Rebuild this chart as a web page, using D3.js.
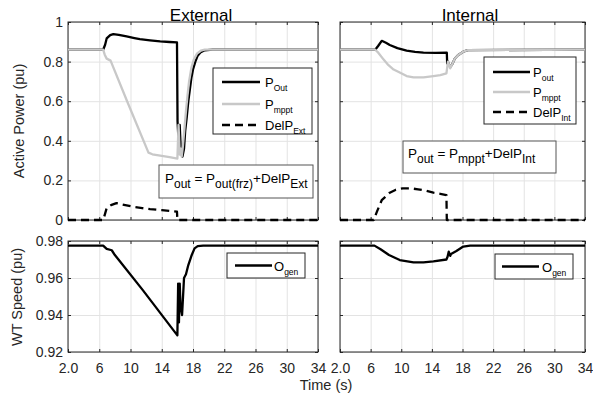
<!DOCTYPE html>
<html><head><meta charset="utf-8">
<script src="https://cdn.jsdelivr.net/npm/d3@7"></script>
<style>html,body{margin:0;padding:0;background:#fff;} svg{display:block;font-family:"Liberation Sans",Arial,sans-serif;}</style>
</head><body><svg id="c" width="593" height="399"></svg>
<script>
// ---------- DATA ----------
const timeTicks = [2, 6, 10, 14, 18, 22, 26, 30, 34];
const timeTickLabels = ["2.0", "6", "10", "14", "18", "22", "26", "30", "34"];
const powerTicks = [0, 0.2, 0.4, 0.6, 0.8, 1];
const powerTickLabels = ["0", "0.2", "0.4", "0.6", "0.8", "1"];
const speedTicks = [0.92, 0.94, 0.96, 0.98];
const speedTickLabels = ["0.92", "0.94", "0.96", "0.98"];
const panelTitles = ["External", "Internal"];

// External: P_out
const extPoutTime = [2, 6.5, 6.75, 6.95, 7.4, 7.8, 8.5, 9.5, 10.5, 11.2, 12.5, 13.8, 15.0, 15.95, 16.02, 16.15, 16.3, 16.45, 16.65, 16.85, 17.0, 17.2, 17.4, 17.6, 17.8, 18.0, 18.3, 18.6, 19.0, 19.5, 20.5, 34];
const extPoutVal  = [0.86, 0.86, 0.885, 0.917, 0.934, 0.939, 0.935, 0.927, 0.919, 0.913, 0.907, 0.902, 0.899, 0.897, 0.50, 0.40, 0.48, 0.34, 0.32, 0.36, 0.45, 0.52, 0.60, 0.66, 0.72, 0.76, 0.80, 0.83, 0.848, 0.857, 0.86, 0.86];
// External: P_mppt
const extPmpptTime = [2, 6.5, 6.7, 6.95, 7.45, 9.5, 12.3, 12.8, 14.0, 15.0, 16.0, 16.15, 16.3, 16.45, 16.55, 16.7, 16.9, 17.1, 17.3, 17.5, 17.8, 18.1, 18.5, 19.0, 19.5, 34];
const extPmpptVal  = [0.86, 0.86, 0.835, 0.815, 0.805, 0.606, 0.34, 0.332, 0.324, 0.317, 0.31, 0.48, 0.33, 0.36, 0.32, 0.37, 0.46, 0.55, 0.63, 0.70, 0.77, 0.81, 0.84, 0.855, 0.86, 0.86];
// External: DelP_Ext
const extDelTime = [2, 6.5, 6.6, 6.95, 7.5, 8.2, 9.0, 10.3, 11.5, 12.5, 14.0, 15.0, 15.95, 16.0, 34];
const extDelVal  = [0, 0, 0.012, 0.06, 0.075, 0.085, 0.078, 0.067, 0.06, 0.055, 0.05, 0.046, 0.042, 0, 0];
// External: generator speed
const extSpeedTime = [2, 6.5, 6.95, 7.6, 8.0, 11.6, 16.0, 16.1, 16.2, 16.3, 16.4, 16.6, 16.85, 17.1, 17.4, 17.8, 18.2, 18.6, 19.3, 34];
const extSpeedVal  = [0.9775, 0.9775, 0.9757, 0.975, 0.9724, 0.9533, 0.929, 0.957, 0.936, 0.957, 0.945, 0.94, 0.96, 0.962, 0.967, 0.972, 0.976, 0.9772, 0.9775, 0.9775];

// Internal: P_out
const intPoutTime = [2, 6.6, 7.0, 7.45, 8.0, 8.5, 9.5, 10.7, 11.8, 12.9, 14.5, 15.95, 16.0, 16.1, 16.25, 16.4, 16.7, 17.0, 17.4, 17.7, 18.2, 18.7, 34];
const intPoutVal  = [0.86, 0.86, 0.88, 0.905, 0.895, 0.884, 0.868, 0.855, 0.849, 0.845, 0.844, 0.845, 0.79, 0.80, 0.78, 0.772, 0.79, 0.816, 0.832, 0.84, 0.852, 0.858, 0.86];
// Internal: P_mppt
const intPmpptTime = [2, 6.6, 7.0, 7.7, 8.3, 9.0, 9.8, 10.7, 11.6, 12.9, 14.2, 15.1, 15.9, 16.1, 16.4, 16.7, 17.0, 17.4, 17.7, 18.2, 18.7, 34];
const intPmpptVal  = [0.86, 0.86, 0.845, 0.81, 0.783, 0.76, 0.745, 0.727, 0.72, 0.72, 0.727, 0.732, 0.741, 0.80, 0.766, 0.79, 0.816, 0.832, 0.84, 0.852, 0.858, 0.86];
// Internal: DelP_Int
const intDelTime = [2, 6.4, 6.8, 7.45, 8.5, 9.3, 10.2, 11.2, 12.2, 13.2, 14.2, 15.1, 15.9, 15.95, 34];
const intDelVal  = [0, 0, 0.04, 0.10, 0.138, 0.153, 0.16, 0.16, 0.155, 0.148, 0.138, 0.132, 0.126, 0, 0];
// Internal: generator speed
const intSpeedTime = [2, 6.5, 7.3, 8.4, 9.8, 11.6, 12.9, 14.2, 15.9, 16.05, 16.2, 16.4, 16.5, 17.2, 18.1, 19.0, 34];
const intSpeedVal  = [0.9775, 0.9775, 0.9755, 0.9724, 0.9697, 0.9685, 0.9685, 0.969, 0.970, 0.9715, 0.9742, 0.972, 0.973, 0.9746, 0.977, 0.9775, 0.9775];

// ---------- DRAW ----------
const svg = d3.select("#c");
svg.append("rect").attr("width", 593).attr("height", 399).attr("fill", "#fff");

const AX = "#262626", GRID = "#e3e3e3", GREY = "#c8c8c8";
const cols = [{x0: 68, x1: 318}, {x0: 340, x1: 585}];
const rows = [{y0: 22, y1: 220}, {y0: 241, y1: 352}];

function zip(t, v) { return t.map((d, i) => [d, v[i]]); }

function panel(ci, ri, yDomain, yTicks, yLabels, series) {
  const c = cols[ci], r = rows[ri];
  const x = d3.scaleLinear().domain([2, 34]).range([c.x0, c.x1]);
  const y = d3.scaleLinear().domain(yDomain).range([r.y1, r.y0]);
  const g = svg.append("g");
  // grid
  g.append("g").attr("transform", `translate(0,${r.y1})`)
    .call(d3.axisBottom(x).tickValues(timeTicks).tickSize(-(r.y1 - r.y0)).tickFormat(""))
    .call(s => { s.select(".domain").remove(); s.selectAll("line").attr("stroke", GRID).attr("stroke-width", 1); });
  g.append("g").attr("transform", `translate(${c.x0},0)`)
    .call(d3.axisLeft(y).tickValues(yTicks).tickSize(-(c.x1 - c.x0)).tickFormat(""))
    .call(s => { s.select(".domain").remove(); s.selectAll("line").attr("stroke", GRID).attr("stroke-width", 1); });
  // inner tick marks
  [[d3.axisBottom(x), r.y1, -3], [d3.axisTop(x), r.y0, -3]].forEach(([ax, yy, ts]) => {
    g.append("g").attr("transform", `translate(0,${yy})`)
      .call(ax.tickValues(timeTicks).tickSize(ts).tickFormat(""))
      .call(s => { s.select(".domain").remove(); s.selectAll("line").attr("stroke", AX); });
  });
  [[d3.axisLeft(y), c.x0], [d3.axisRight(y), c.x1]].forEach(([ax, xx]) => {
    g.append("g").attr("transform", `translate(${xx},0)`)
      .call(ax.tickValues(yTicks).tickSize(-3).tickFormat(""))
      .call(s => { s.select(".domain").remove(); s.selectAll("line").attr("stroke", AX); });
  });
  // box
  g.append("rect").attr("x", c.x0).attr("y", r.y0).attr("width", c.x1 - c.x0).attr("height", r.y1 - r.y0)
    .attr("fill", "none").attr("stroke", AX).attr("stroke-width", 1);
  // y tick labels (left column only)
  if (ci === 0) {
    g.append("g").attr("transform", `translate(${c.x0},0)`)
      .call(d3.axisLeft(y).tickValues(yTicks).tickSize(0).tickPadding(5).tickFormat((d, i) => yLabels[i]))
      .call(s => { s.select(".domain").remove(); s.selectAll("text").attr("font-size", 14).attr("fill", AX).attr("font-family", "Liberation Sans, Arial, sans-serif"); });
  }
  // x tick labels (bottom row only)
  if (ri === 1) {
    g.append("g").attr("transform", `translate(0,${r.y1})`)
      .call(d3.axisBottom(x).tickValues(timeTicks).tickSize(0).tickPadding(11).tickFormat((d, i) => timeTickLabels[i]))
      .call(s => { s.select(".domain").remove(); s.selectAll("text").attr("font-size", 14).attr("fill", AX).attr("font-family", "Liberation Sans, Arial, sans-serif"); });
  }
  // series
  const line = d3.line().x(d => x(d[0])).y(d => y(d[1]));
  series.forEach(s => {
    g.append("path").attr("d", line(zip(s.t, s.v))).attr("fill", "none")
      .attr("stroke", s.color).attr("stroke-width", 2.3).attr("stroke-linejoin", "round")
      .attr("stroke-dasharray", s.dash || null);
  });
  return g;
}

function subText(g, xx, yy, parts, size) {
  const t = g.append("text").attr("x", xx).attr("y", yy).attr("font-size", size).attr("fill", "#000");
  parts.forEach(p => {
    const ts = t.append("tspan").text(p.s);
    if (p.sub) ts.attr("font-size", p.size).attr("dy", p.dy);
    else if (p.dy) ts.attr("dy", p.dy);
  });
  return t;
}

function legend(box, entries, size) {
  const g = svg.append("g");
  g.append("rect").attr("x", box.x).attr("y", box.y).attr("width", box.w).attr("height", box.h)
    .attr("fill", "#fff").attr("stroke", AX).attr("stroke-width", 1);
  entries.forEach(e => {
    g.append("line").attr("x1", box.lx0).attr("x2", box.lx1).attr("y1", e.y).attr("y2", e.y)
      .attr("stroke", e.color).attr("stroke-width", 2.5).attr("stroke-dasharray", e.dash || null);
    subText(g, box.tx, e.y + 5, [{s: e.main}, {s: e.sub, sub: true, size: 8.5, dy: 4}], size);
  });
}

const BLACK = "#000", DASH = "8,5";

panel(0, 0, [0, 1], powerTicks, powerTickLabels, [
  {t: extPoutTime, v: extPoutVal, color: BLACK},
  {t: extPmpptTime, v: extPmpptVal, color: GREY},
  {t: extDelTime, v: extDelVal, color: BLACK, dash: DASH}
]);
panel(1, 0, [0, 1], powerTicks, powerTickLabels, [
  {t: intPoutTime, v: intPoutVal, color: BLACK},
  {t: intPmpptTime, v: intPmpptVal, color: GREY},
  {t: intDelTime, v: intDelVal, color: BLACK, dash: DASH}
]);
panel(0, 1, [0.92, 0.98], speedTicks, speedTickLabels, [
  {t: extSpeedTime, v: extSpeedVal, color: BLACK}
]);
panel(1, 1, [0.92, 0.98], speedTicks, speedTickLabels, [
  {t: intSpeedTime, v: intSpeedVal, color: BLACK}
]);

// legends
legend({x: 213, y: 68, w: 99, h: 66, lx0: 222, lx1: 260, tx: 265}, [
  {y: 82, color: BLACK, main: "P", sub: "Out"},
  {y: 104, color: GREY, main: "P", sub: "mppt"},
  {y: 125, color: BLACK, dash: DASH, main: "DelP", sub: "Ext"}
], 13);
legend({x: 484, y: 57, w: 92, h: 67, lx0: 493, lx1: 530, tx: 533}, [
  {y: 72, color: BLACK, main: "P", sub: "out"},
  {y: 92, color: GREY, main: "P", sub: "mppt"},
  {y: 112, color: BLACK, dash: DASH, main: "DelP", sub: "Int"}
], 13);
legend({x: 227, y: 253, w: 78, h: 25, lx0: 235, lx1: 272, tx: 274}, [
  {y: 265.5, color: BLACK, main: "O", sub: "gen"}
], 13);
legend({x: 495, y: 254, w: 78, h: 25, lx0: 502, lx1: 539, tx: 542}, [
  {y: 266.5, color: BLACK, main: "O", sub: "gen"}
], 13);

// equation boxes
function eqBox(box, parts) {
  const g = svg.append("g");
  g.append("rect").attr("x", box.x).attr("y", box.y).attr("width", box.w).attr("height", box.h)
    .attr("fill", "#fff").attr("stroke", "#555").attr("stroke-width", 1);
  subText(g, box.tx, box.ty, parts, 13.5);
}
eqBox({x: 159, y: 165, w: 154, h: 33, tx: 165, ty: 183}, [
  {s: "P"}, {s: "out", sub: true, size: 12, dy: 5}, {s: " = P", dy: -5},
  {s: "out(frz)", sub: true, size: 12, dy: 5}, {s: "+DelP", dy: -5},
  {s: "Ext", sub: true, size: 12, dy: 5}
]);
eqBox({x: 403, y: 141, w: 153, h: 32, tx: 408, ty: 158}, [
  {s: "P"}, {s: "out", sub: true, size: 12, dy: 5}, {s: " = P", dy: -5},
  {s: "mppt", sub: true, size: 12, dy: 5}, {s: "+DelP", dy: -5},
  {s: "Int", sub: true, size: 12, dy: 5}
]);

// titles and axis labels
svg.append("text").attr("x", 201).attr("y", 21).attr("text-anchor", "middle").attr("font-size", 17).attr("fill", "#000").text(panelTitles[0]);
svg.append("text").attr("x", 470).attr("y", 21).attr("text-anchor", "middle").attr("font-size", 17).attr("fill", "#000").text(panelTitles[1]);
svg.append("text").attr("transform", "translate(24,121) rotate(-90)").attr("text-anchor", "middle").attr("font-size", 14.5).attr("fill", AX).text("Active Power (pu)");
svg.append("text").attr("transform", "translate(22,297) rotate(-90)").attr("text-anchor", "middle").attr("font-size", 14.5).attr("fill", AX).text("WT Speed (pu)");
svg.append("text").attr("x", 326).attr("y", 390).attr("text-anchor", "middle").attr("font-size", 14.5).attr("fill", AX).text("Time (s)");
</script>
</body></html>
